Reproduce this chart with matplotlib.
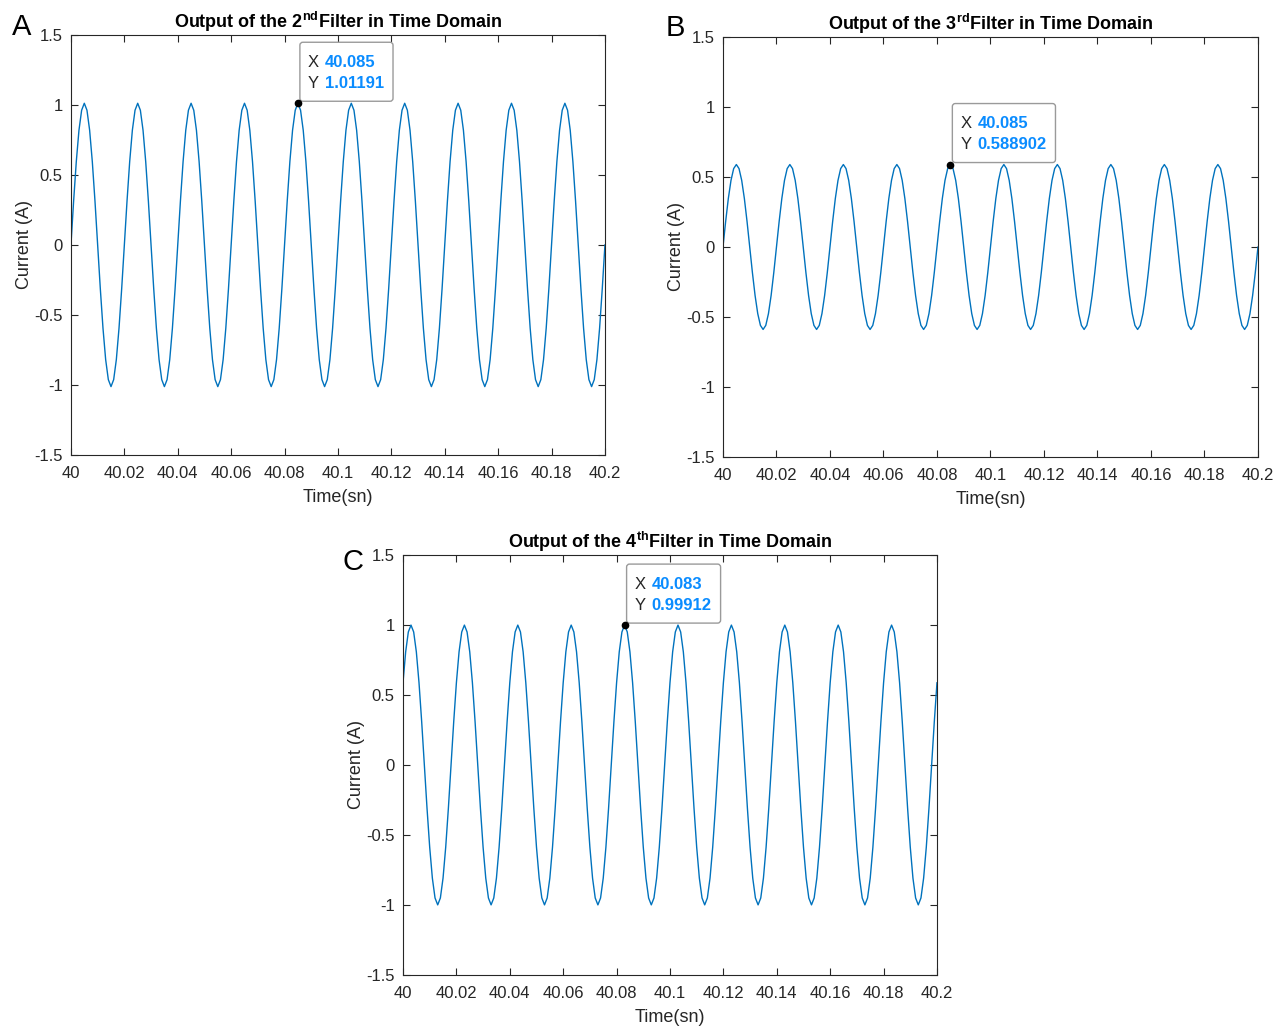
"""Filter outputs in the time domain, three stacked panels in MATLAB style."""

import matplotlib

matplotlib.use("Agg")

import matplotlib.pyplot as plt
import numpy as np
from matplotlib.patches import FancyBboxPatch
from matplotlib.ticker import FuncFormatter
from matplotlib.transforms import Affine2D, ScaledTranslation

# one 20 ms cycle of each filter output, sampled every 1 ms
CYCLE_2ND = [0.0, 0.313, 0.595, 0.819, 0.962, 1.01191, 0.962, 0.819, 0.595, 0.313,
             0.0, -0.313, -0.595, -0.819, -0.962, -1.01191, -0.962, -0.819, -0.595, -0.313]
CYCLE_3RD = [0.0, 0.182, 0.346, 0.476, 0.560, 0.588902, 0.560, 0.476, 0.346, 0.182,
             0.0, -0.182, -0.346, -0.476, -0.560, -0.588902, -0.560, -0.476, -0.346, -0.182]
CYCLE_4TH = [0.587, 0.808, 0.950, 0.99912, 0.950, 0.808, 0.587, 0.309, 0.0, -0.309,
             -0.587, -0.808, -0.950, -0.99912, -0.950, -0.808, -0.587, -0.309, 0.0, 0.309]
N_CYCLES = 10
T_START = 40.0
T_STEP = 0.001

PANEL_LETTERS = ["A", "B", "C"]
ORDINALS = ["2", "3", "4"]
SUFFIXES = ["nd", "rd", "th"]
TIP_X = [40.085, 40.085, 40.083]
TIP_Y = ["1.01191", "0.588902", "0.99912"]

X_TICKS = [40, 40.02, 40.04, 40.06, 40.08, 40.1, 40.12, 40.14, 40.16, 40.18, 40.2]
Y_TICKS = [-1.5, -1, -0.5, 0, 0.5, 1, 1.5]

LINE_COLOR = "#0072BD"
TIP_COLOR = "#0A8CFF"
AX_COLOR = "#262626"

plt.rcParams.update(
    {
        "font.family": "Liberation Sans",
        "axes.unicode_minus": False,
        "mathtext.fontset": "custom",
        "mathtext.rm": "Liberation Sans",
        "mathtext.bf": "Liberation Sans:bold",
        "xtick.direction": "in",
        "ytick.direction": "in",
        "xtick.top": True,
        "ytick.right": True,
        "xtick.major.size": 5,
        "ytick.major.size": 5,
        "xtick.color": AX_COLOR,
        "ytick.color": AX_COLOR,
        "axes.edgecolor": AX_COLOR,
        "axes.linewidth": 0.8,
        "xtick.labelsize": 12,
        "ytick.labelsize": 12,
    }
)


def series(cycle):
    values = np.array(list(cycle) * N_CYCLES + [cycle[0]])
    t = T_START + T_STEP * np.arange(len(values))
    return t, values


def data_tip(fig, ax, x, y_text):
    y = float(y_text)
    renderer = fig.canvas.get_renderer()
    anchor = Affine2D() + ScaledTranslation(x, y, ax.transData)

    ax.plot([x], [y], "o", color="black", markersize=4.5, zorder=6)
    ax.text(10, 41, "X", transform=anchor, fontsize=12, color=AX_COLOR,
            va="center", ha="left", zorder=7)
    ax.text(10, 20, "Y", transform=anchor, fontsize=12, color=AX_COLOR,
            va="center", ha="left", zorder=7)
    t1 = ax.text(27, 41, f"{x:g}", transform=anchor, fontsize=12, color=TIP_COLOR,
                 fontweight="bold", va="center", ha="left", zorder=7)
    t2 = ax.text(27, 20, y_text, transform=anchor, fontsize=12, color=TIP_COLOR,
                 fontweight="bold", va="center", ha="left", zorder=7)

    origin = ax.transData.transform((x, y))[0]
    right = max(t1.get_window_extent(renderer).x1, t2.get_window_extent(renderer).x1)
    width = right - origin + 9 - 2
    box = FancyBboxPatch((2, 2), width, 59, boxstyle="round,pad=0,rounding_size=3",
                         transform=anchor, facecolor="white", edgecolor="#9a9a9a",
                         linewidth=1.0, zorder=5, clip_on=False)
    ax.add_patch(box)


fig = plt.figure(figsize=(12.83, 10.30), dpi=100)
positions = [
    [0.0553, 0.5583, 0.4162, 0.4078],
    [0.5635, 0.5563, 0.4170, 0.4078],
    [0.3141, 0.0534, 0.4162, 0.4078],
]
letter_xy = [(0.009, 0.966), (0.519, 0.965), (0.267, 0.447)]

for i, cycle in enumerate([CYCLE_2ND, CYCLE_3RD, CYCLE_4TH]):
    ax = fig.add_axes(positions[i])
    t, values = series(cycle)
    ax.plot(t, values, color=LINE_COLOR, linewidth=1.0)
    ax.set_xlim(40, 40.2)
    ax.set_ylim(-1.5, 1.5)
    ax.set_xticks(X_TICKS)
    ax.set_yticks(Y_TICKS)
    ax.xaxis.set_major_formatter(FuncFormatter(lambda v, _: f"{v:g}"))
    ax.yaxis.set_major_formatter(FuncFormatter(lambda v, _: f"{v:g}"))
    ax.tick_params(axis="x", pad=8)
    ax.tick_params(axis="y", pad=6)
    ax.set_xlabel("Time(sn)", fontsize=13, color=AX_COLOR, labelpad=6)
    ax.set_ylabel("Current (A)", fontsize=13, color=AX_COLOR, labelpad=1)
    ax.set_title(
        f"Output of the {ORDINALS[i]}$^{{\\mathbf{{{SUFFIXES[i]}}}}}$Filter in Time Domain",
        fontsize=13, fontweight="bold", color="black", pad=5,
    )
    data_tip(fig, ax, TIP_X[i], TIP_Y[i])
    fig.text(*letter_xy[i], PANEL_LETTERS[i], fontsize=21, color="black")

fig.savefig("out.png", dpi=100, facecolor="white")
